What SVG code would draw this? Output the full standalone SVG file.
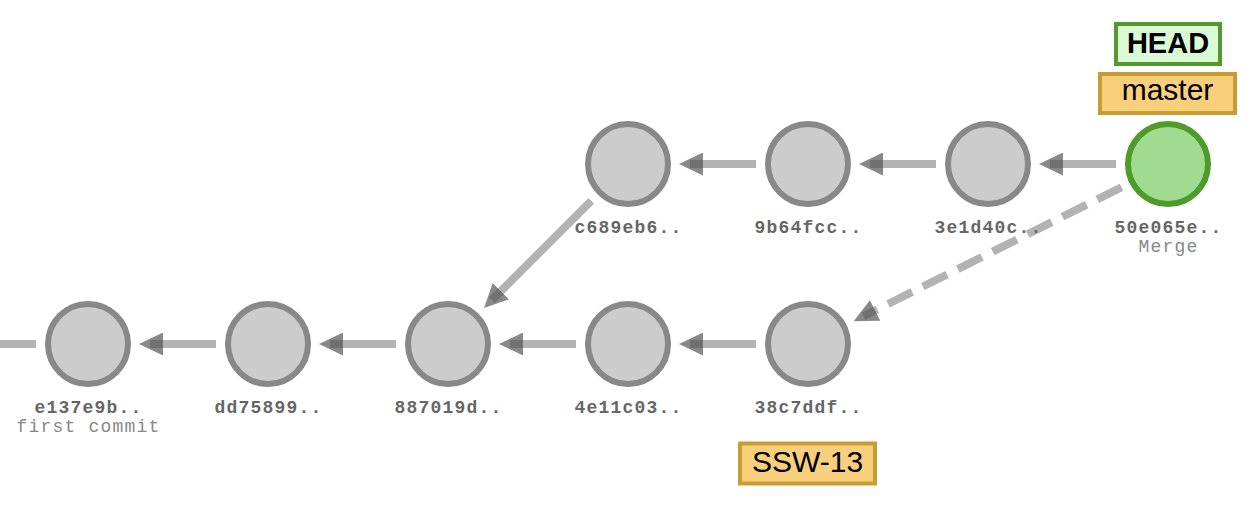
<svg xmlns="http://www.w3.org/2000/svg" width="1256" height="508" viewBox="0 0 1256 508">
<style>
.edge{stroke:#b3b3b3;stroke-width:8;fill:none}
.dash{stroke-dasharray:27 12}
.arr{marker-end:url(#ah)}
.commit{fill:#cccccc;stroke:#888888;stroke-width:6}
.head{fill:#a0dc90;stroke:#4e9a2a;stroke-width:6}
.hash{font-family:"Liberation Mono","Courier New",monospace;font-weight:bold;font-size:18px;letter-spacing:1.2px;fill:#666666;text-anchor:middle}
.msg{font-family:"Liberation Mono","Courier New",monospace;font-size:18px;letter-spacing:1.2px;fill:#888888;text-anchor:middle}
.branch rect{fill:#f8cf7a;stroke:#c99b33;stroke-width:4}
.headref rect{fill:#d9fad4;stroke:#55982e;stroke-width:4}
.reftxt{font-family:"Liberation Sans",Arial,sans-serif;font-size:30px;fill:#000;text-anchor:middle}
.headtxt{font-family:"Liberation Sans",Arial,sans-serif;font-size:29px;font-weight:bold;fill:#000;text-anchor:middle}
</style>
<defs>
<marker id="ah" markerUnits="userSpaceOnUse" markerWidth="24" markerHeight="23" viewBox="0 0 24 23" refX="13" refY="11.5" orient="auto">
<path d="M0,0 L24,11.5 L0,23 Z" fill="#555555" fill-opacity="0.7"/>
</marker>
</defs>
<rect width="1256" height="508" fill="#ffffff"/>
<g id="connectors">
<line class="edge" x1="36" y1="344" x2="0" y2="344"/>
<line class="edge arr" x1="216" y1="344" x2="150" y2="344"/>
<line class="edge arr" x1="396" y1="344" x2="330" y2="344"/>
<line class="edge arr" x1="576" y1="344" x2="510" y2="344"/>
<line class="edge arr" x1="756" y1="344" x2="690" y2="344"/>
<line class="edge arr" x1="756" y1="164" x2="690" y2="164"/>
<line class="edge arr" x1="936" y1="164" x2="870" y2="164"/>
<line class="edge arr" x1="1116" y1="164" x2="1050" y2="164"/>
<line class="edge arr" x1="591.2" y1="200.8" x2="491.8" y2="300.2"/>
<line class="edge dash arr" x1="1121.5" y1="187.25" x2="863.45" y2="316.27"/>
</g>
<g id="node-e137e9b">
<circle class="commit" cx="88" cy="344" r="40"/>
<text class="hash" x="88.6" y="413">e137e9b..</text>
<text class="msg" x="88.6" y="432">first commit</text>
</g>
<g id="node-dd75899">
<circle class="commit" cx="268" cy="344" r="40"/>
<text class="hash" x="268.6" y="413">dd75899..</text>
</g>
<g id="node-887019d">
<circle class="commit" cx="448" cy="344" r="40"/>
<text class="hash" x="448.6" y="413">887019d..</text>
</g>
<g id="node-4e11c03">
<circle class="commit" cx="628" cy="344" r="40"/>
<text class="hash" x="628.6" y="413">4e11c03..</text>
</g>
<g id="node-38c7ddf">
<circle class="commit" cx="808" cy="344" r="40"/>
<text class="hash" x="808.6" y="413">38c7ddf..</text>
</g>
<g id="node-c689eb6">
<circle class="commit" cx="628" cy="164" r="40"/>
<text class="hash" x="628.6" y="233">c689eb6..</text>
</g>
<g id="node-9b64fcc">
<circle class="commit" cx="808" cy="164" r="40"/>
<text class="hash" x="808.6" y="233">9b64fcc..</text>
</g>
<g id="node-3e1d40c">
<circle class="commit" cx="988" cy="164" r="40"/>
<text class="hash" x="988.6" y="233">3e1d40c..</text>
</g>
<g id="node-50e065e">
<circle class="head" cx="1168" cy="164" r="40"/>
<text class="hash" x="1168.6" y="233">50e065e..</text>
<text class="msg" x="1168.6" y="252">Merge</text>
</g>
<g id="ref-HEAD" class="headref">
<rect x="1116" y="24" width="104" height="40"/>
<text class="headtxt" x="1168" y="52.5">HEAD</text>
</g>
<g id="ref-master" class="branch">
<rect x="1100" y="74" width="135" height="39"/>
<text class="reftxt" x="1167.5" y="99.5">master</text>
</g>
<g id="ref-SSW-13" class="branch">
<rect x="740" y="443.5" width="135" height="40"/>
<text class="reftxt" x="807.5" y="472">SSW-13</text>
</g>
</svg>
